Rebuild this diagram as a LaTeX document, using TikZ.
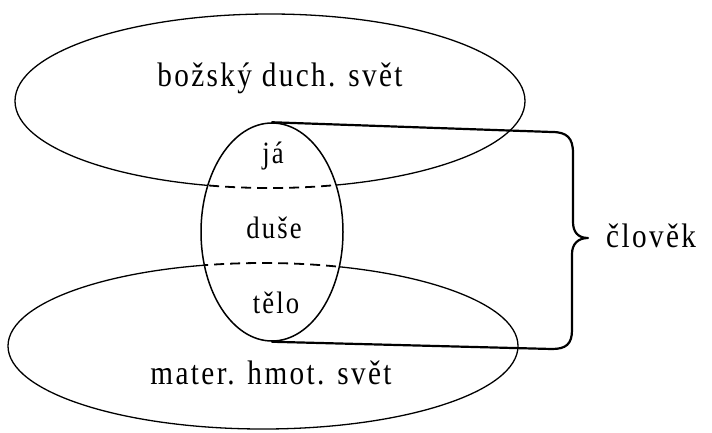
\documentclass[tikz,border=0pt]{standalone}
\usepackage{fontspec}
\setmainfont{Liberation Serif}
\newfontfamily\labfont[LetterSpace=7,FakeStretch=0.86]{Liberation Serif}
\usetikzlibrary{shapes.geometric}
\begin{document}
\begin{tikzpicture}[x=1pt,y=-1pt,
  world/.style={line width=1.3pt},
  hidden/.style={line width=1.8pt, dash pattern=on 10pt off 6pt},
  biglabel/.style={font=\labfont\fontsize{34}{38}\selectfont, anchor=base, inner sep=0pt},
  inlabel/.style={font=\labfont\fontsize{31}{35}\selectfont, anchor=base, inner sep=0pt},
  body/.style={line width=2.2pt, line join=round, line cap=round}]
\useasboundingbox (0,0) rectangle (712,432);
% solid parts of the two worlds, outside the man ellipse
\begin{scope}[even odd rule]
  \clip (-20,-20) rectangle (732,452) (272,232) ellipse [x radius=71, y radius=109];
  \draw[world] (270,101) ellipse [x radius=255, y radius=87];
  \draw[world] (263,346) ellipse [x radius=255, y radius=83];
\end{scope}
% hidden (dashed) parts inside the man ellipse
\begin{scope}
  \clip (272,232) ellipse [x radius=71, y radius=109];
  \draw[hidden] (270,101) ellipse [x radius=255, y radius=87];
  \draw[hidden] (263,346) ellipse [x radius=255, y radius=83];
\end{scope}
% man
\node[draw, ellipse, line width=1.5pt, minimum width=142pt, minimum height=218pt, inner sep=0pt] (man) at (272,232) {};
% cylinder lines and brace
\draw[body] (man.north) -- (552,132) .. controls (567,132) and (573,138) .. (573,153)
  -- (573,222) .. controls (573,232) and (578,238) .. (588,238)
  .. controls (578,238) and (572,244) .. (572,254)
  -- (572,330) .. controls (572,344) and (566,349) .. (552,349) -- (man.south);
% labels
\node[biglabel] (spirit) at (280,86) {božský duch. svět};
\node[biglabel] (matter) at (271,384) {mater. hmot. svět};
\node[inlabel] (ja) at (273,163) {já};
\node[inlabel] (duse) at (274,238) {duše};
\node[inlabel] (telo) at (276,313) {tělo};
\node[biglabel, anchor=base west] (clovek) at (606,247) {člověk};
\end{tikzpicture}
\end{document}
